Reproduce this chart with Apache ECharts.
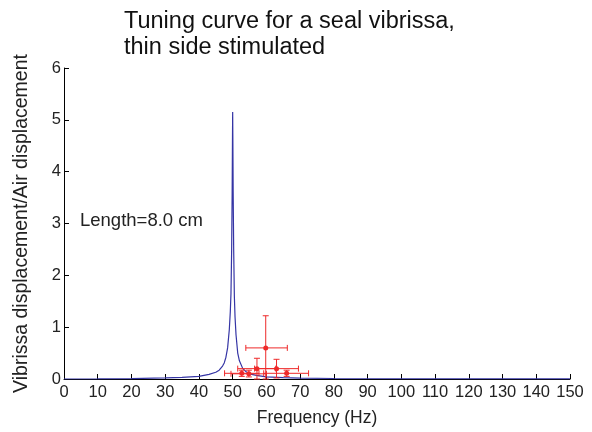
<!DOCTYPE html>
<html>
<head>
<meta charset="utf-8">
<script src="https://cdn.jsdelivr.net/npm/echarts@6/dist/echarts.min.js"></script>
<style>html,body{margin:0;padding:0;background:#fff}#c{width:592px;height:432px}</style>
</head>
<body>
<div id="c"></div>
<script>
// Model tuning curve
var curveFreq = [0, 10, 20, 30, 35, 40, 43, 45, 46, 47, 47.5, 48, 48.5, 49, 49.3, 49.5, 49.7, 49.85, 49.95, 50.0, 50.05, 50.15, 50.3, 50.5, 50.7, 51, 51.5, 52, 53, 54, 55, 57, 60, 65, 70, 80, 100, 150];
var curveRatio = [0, 0.003, 0.008, 0.02, 0.03, 0.05, 0.09, 0.13, 0.17, 0.25, 0.31, 0.42, 0.6, 0.95, 1.3, 1.65, 2.5, 3.6, 4.7, 5.15, 4.7, 3.6, 2.5, 1.6, 1.2, 0.85, 0.5, 0.35, 0.2, 0.14, 0.1, 0.07, 0.04, 0.025, 0.017, 0.01, 0.005, 0.002];
// Measured points with error bars
var measFreq   = [52.7, 54.8, 57.2, 59.8, 63.0, 66.0];
var measRatio  = [0.11, 0.10, 0.20, 0.60, 0.20, 0.11];
var freqLow    = [47.6, 49.5, 51.5, 53.9, 56.5, 59.2];
var freqHigh   = [57.8, 60.0, 62.8, 66.2, 69.5, 72.5];
var ratioLow   = [0.05, 0.04, 0.00, 0.00, 0.02, 0.05];
var ratioHigh  = [0.17, 0.17, 0.40, 1.22, 0.38, 0.17];
var xTicks = [0, 10, 20, 30, 40, 50, 60, 70, 80, 90, 100, 110, 120, 130, 140, 150];
var yTicks = [0, 1, 2, 3, 4, 5, 6];

var curveData = curveFreq.map(function (f, i) { return [f, curveRatio[i]]; });
var measData = measFreq.map(function (f, i) {
  return [f, measRatio[i], freqLow[i], freqHigh[i], ratioLow[i], ratioHigh[i]];
});

var FONT = 'Liberation Sans, Arial, sans-serif';
var RED = '#ee2a2a';
var chart = echarts.init(document.getElementById('c'), null, {renderer: 'canvas'});
chart.setOption({
  animation: false,
  backgroundColor: '#fff',
  title: {
    text: 'Tuning curve for a seal vibrissa,\nthin side stimulated',
    left: 119, top: 4,
    textStyle: {fontFamily: FONT, fontSize: 23.5, fontWeight: 'normal', color: '#111', lineHeight: 26}
  },
  grid: {left: 64, right: 22, top: 68, bottom: 51, containLabel: false},
  xAxis: {
    type: 'value', min: 0, max: 150, interval: 10,
    name: 'Frequency (Hz)', nameLocation: 'middle', nameGap: 30,
    nameTextStyle: {fontFamily: FONT, fontSize: 17.5, color: '#222'},
    axisLine: {show: true, onZero: false, lineStyle: {color: '#000', width: 1}},
    axisTick: {show: true, inside: true, length: 5, lineStyle: {color: '#000'}},
    axisLabel: {fontFamily: FONT, fontSize: 16.5, color: '#222', margin: 5,
      formatter: function (v) { return xTicks.indexOf(v) >= 0 ? String(v) : ''; }},
    splitLine: {show: false}
  },
  yAxis: {
    type: 'value', min: 0, max: 6, interval: 1,
    name: 'Vibrissa displacement/Air displacement', nameLocation: 'middle', nameGap: 32,
    nameTextStyle: {fontFamily: FONT, fontSize: 19.5, color: '#222'},
    axisLine: {show: true, onZero: false, lineStyle: {color: '#000', width: 1}},
    axisTick: {show: true, inside: true, length: 5, lineStyle: {color: '#000'}},
    axisLabel: {fontFamily: FONT, fontSize: 16.5, color: '#222', margin: 3,
      formatter: function (v) { return yTicks.indexOf(v) >= 0 ? String(v) : ''; }},
    splitLine: {show: false}
  },
  graphic: [{
    type: 'text', left: 80, top: 211,
    style: {text: 'Length=8.0 cm', font: '18.5px ' + FONT, fill: '#222'}
  }],
  series: [{
    type: 'line', data: curveData, showSymbol: false, smooth: false,
    lineStyle: {color: '#3535a5', width: 1.2}, z: 2
  }, {
    type: 'custom', data: measData, z: 3,
    encode: {x: [0, 2, 3], y: [1, 4, 5]},
    renderItem: function (params, api) {
      var x = api.value(0), y = api.value(1);
      var c = api.coord([x, y]);
      var l = api.coord([api.value(2), y]);
      var r = api.coord([api.value(3), y]);
      var b = api.coord([x, api.value(4)]);
      var t = api.coord([x, api.value(5)]);
      var cap = 3;
      var st = {stroke: RED, lineWidth: 1};
      return {type: 'group', children: [
        {type: 'line', shape: {x1: l[0], y1: c[1], x2: r[0], y2: c[1]}, style: st},
        {type: 'line', shape: {x1: l[0], y1: c[1] - cap, x2: l[0], y2: c[1] + cap}, style: st},
        {type: 'line', shape: {x1: r[0], y1: c[1] - cap, x2: r[0], y2: c[1] + cap}, style: st},
        {type: 'line', shape: {x1: c[0], y1: b[1], x2: c[0], y2: t[1]}, style: st},
        {type: 'line', shape: {x1: c[0] - cap, y1: t[1], x2: c[0] + cap, y2: t[1]}, style: st},
        {type: 'line', shape: {x1: c[0] - cap, y1: b[1], x2: c[0] + cap, y2: b[1]}, style: st},
        {type: 'circle', shape: {cx: c[0], cy: c[1], r: 2.5}, style: {fill: RED}}
      ]};
    }
  }]
});
</script>
</body>
</html>
